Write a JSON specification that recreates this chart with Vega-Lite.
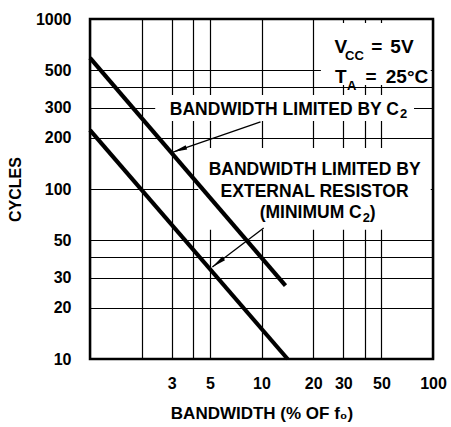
{
  "$schema": "https://vega.github.io/schema/vega-lite/v6.json",
  "width": 343,
  "height": 340,
  "autosize": {"type": "none"},
  "padding": {"left": 90, "top": 19, "right": 18, "bottom": 68},
  "background": "white",
  "config": {
    "view": {"stroke": "black", "strokeWidth": 2.5},
    "font": "Liberation Sans",
    "axis": {
      "grid": true, "gridColor": "black", "gridWidth": 1.2, "gridOpacity": 1,
      "ticks": false, "domain": false,
      "labelFont": "Liberation Sans", "labelFontSize": 16, "labelFontWeight": "bold", "labelColor": "black",
      "labelFlush": false, "labelOverlap": false,
      "titleFont": "Liberation Sans", "titleFontSize": 16, "titleFontWeight": "bold", "titleColor": "black"
    }
  },
  "datasets": {
    "curves": [
      {"series": "c2", "x": 1, "y": 590},
      {"series": "c2", "x": 13.8, "y": 27},
      {"series": "ext", "x": 1, "y": 222},
      {"series": "ext", "x": 14.2, "y": 10}
    ],
    "boxes": [
      {"x": 22.2, "x2": 97, "y": 947, "y2": 409},
      {"x": 2.4, "x2": 77.5, "y": 357, "y2": 251},
      {"x": 4.28, "x2": 97, "y": 174, "y2": 57.5}
    ],
    "arrows": [
      {"name": "a1", "x": 9.87, "y": 248, "x2": 3.05, "y2": 165},
      {"name": "a2", "x": 10.3, "y": 59, "x2": 5.17, "y2": 34.8}
    ],
    "heads": [
      {"name": "a1", "x": 3.05, "y": 165},
      {"name": "a2", "x": 5.17, "y": 34.8}
    ],
    "labelsCenter": [
      {"x": 20.4, "y": 120.9, "t": "BANDWIDTH LIMITED BY"},
      {"x": 20.4, "y": 89.7, "t": "EXTERNAL RESISTOR"}
    ],
    "labelsRight": [
      {"x": 63.3, "y": 272, "t": "BANDWIDTH LIMITED BY C"},
      {"x": 38.4, "y": 67.4, "t": "(MINIMUM C"}
    ],
    "labelsSub": [
      {"x": 64.2, "y": 261.6, "t": "2"},
      {"x": 39.0, "y": 64.0, "t": "2"}
    ],
    "labelsTail": [
      {"x": 42.8, "y": 67.4, "t": ")"}
    ],
    "cond": [
      {"x": 29.0, "y": 631, "t": "V"},
      {"x": 47.0, "y": 631, "t": "="},
      {"x": 65.9, "y": 631, "t": "5V"},
      {"x": 29.0, "y": 420, "t": "T"},
      {"x": 43.5, "y": 420, "t": "="},
      {"x": 70.5, "y": 420, "t": "25°C"}
    ],
    "condsub": [
      {"x": 34.8, "y": 574, "t": "CC"},
      {"x": 33.6, "y": 384, "t": "A"}
    ]
  },
  "encoding": {
    "x": {
      "field": "x", "type": "quantitative",
      "scale": {"type": "log", "domain": [1, 100]},
      "title": "BANDWIDTH (% OF f₀)",
      "axis": {
        "values": [1, 2, 3, 4, 5, 10, 20, 30, 40, 50, 100],
        "format": "d",
        "labelExpr": "datum.value == 1 || datum.value == 2 || datum.value == 4 || datum.value == 40 ? '' : datum.label",
        "labelPadding": 16,
        "titleFontSize": 17,
        "titleX": 171.5, "titleY": 54, "titleBaseline": "middle", "titleAlign": "center"
      }
    },
    "y": {
      "field": "y", "type": "quantitative",
      "scale": {"type": "log", "domain": [10, 1000]},
      "title": "CYCLES",
      "axis": {
        "values": [10, 20, 30, 40, 50, 100, 200, 300, 400, 500, 1000],
        "format": "d",
        "labelExpr": "datum.value == 40 || datum.value == 400 ? '' : datum.label",
        "labelPadding": 19,
        "titleX": -75, "titleY": 170, "titleBaseline": "middle", "titleAlign": "center", "titleAngle": -90
      }
    }
  },
  "layer": [
    {
      "data": {"name": "boxes"},
      "mark": {"type": "rect", "fill": "white", "stroke": null},
      "encoding": {"x2": {"field": "x2"}, "y2": {"field": "y2"}}
    },
    {
      "data": {"name": "curves"},
      "mark": {"type": "line", "color": "black", "strokeWidth": 4.2, "strokeCap": "butt"},
      "encoding": {"detail": {"field": "series"}}
    },
    {
      "data": {"name": "arrows"},
      "mark": {"type": "rule", "color": "black", "strokeWidth": 1.3},
      "encoding": {"x2": {"field": "x2"}, "y2": {"field": "y2"}}
    },
    {
      "data": {"name": "heads"},
      "transform": [{"filter": "datum.name == 'a1'"}],
      "mark": {"type": "point", "shape": "M0,0L-0.32,2L0.32,2Z", "size": 200, "filled": true, "color": "black", "opacity": 1, "angle": 251}
    },
    {
      "data": {"name": "heads"},
      "transform": [{"filter": "datum.name == 'a2'"}],
      "mark": {"type": "point", "shape": "M0,0L-0.32,2L0.32,2Z", "size": 200, "filled": true, "color": "black", "opacity": 1, "angle": 233}
    },
    {
      "data": {"name": "labelsCenter"},
      "mark": {"type": "text", "font": "Liberation Sans", "fontSize": 17.5, "fontWeight": "bold", "color": "black", "align": "center", "baseline": "alphabetic"},
      "encoding": {"text": {"field": "t"}}
    },
    {
      "data": {"name": "labelsRight"},
      "mark": {"type": "text", "font": "Liberation Sans", "fontSize": 17.5, "fontWeight": "bold", "color": "black", "align": "right", "baseline": "alphabetic"},
      "encoding": {"text": {"field": "t"}}
    },
    {
      "data": {"name": "labelsSub"},
      "mark": {"type": "text", "font": "Liberation Sans", "fontSize": 13, "fontWeight": "bold", "color": "black", "align": "left", "baseline": "alphabetic"},
      "encoding": {"text": {"field": "t"}}
    },
    {
      "data": {"name": "labelsTail"},
      "mark": {"type": "text", "font": "Liberation Sans", "fontSize": 17.5, "fontWeight": "bold", "color": "black", "align": "left", "baseline": "alphabetic"},
      "encoding": {"text": {"field": "t"}}
    },
    {
      "data": {"name": "cond"},
      "mark": {"type": "text", "font": "Liberation Sans", "fontSize": 19, "fontWeight": "bold", "color": "black", "align": "center", "baseline": "alphabetic"},
      "encoding": {"text": {"field": "t"}}
    },
    {
      "data": {"name": "condsub"},
      "mark": {"type": "text", "font": "Liberation Sans", "fontSize": 13, "fontWeight": "bold", "color": "black", "align": "center", "baseline": "alphabetic"},
      "encoding": {"text": {"field": "t"}}
    }
  ]
}
